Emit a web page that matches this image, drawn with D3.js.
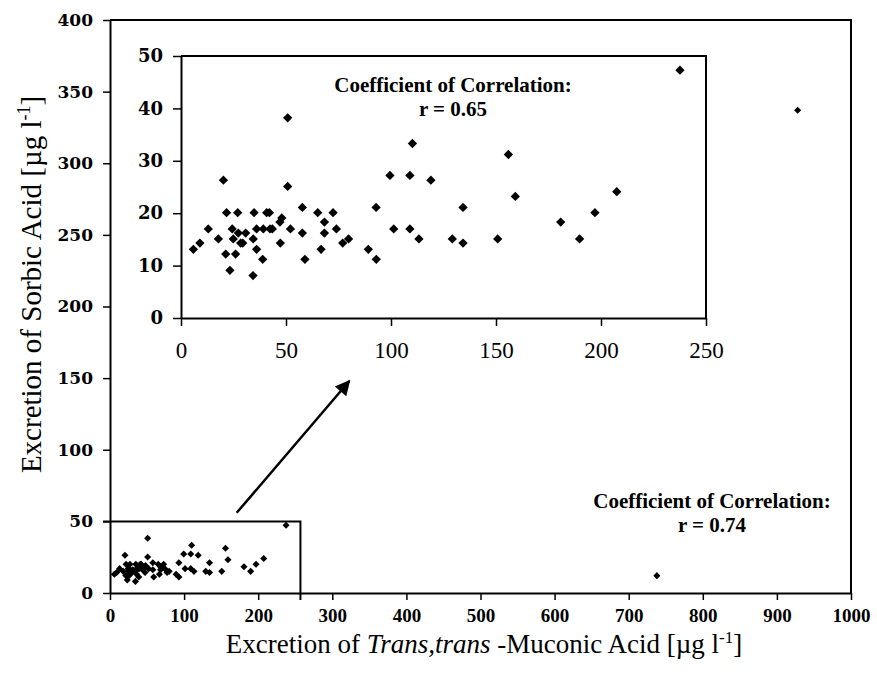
<!DOCTYPE html>
<html>
<head>
<meta charset="utf-8">
<script src="https://cdn.jsdelivr.net/npm/d3@7"></script>
<style>
  body { margin: 0; background: #fff; }
  text { fill: #000; }
</style>
</head>
<body>
<div id="chart"></div>
<script>
// trans,trans-muconic acid (x) vs sorbic acid (y), µg/l
const ttma = [5.9, 9.0, 13.0, 17.8, 20.2, 21.7, 21.3, 23.3, 24.4, 24.9, 26.0, 27.0, 27.3, 28.4, 29.4,
  30.8, 34.4, 34.8, 34.3, 36.0, 36.0, 38.9, 39.2, 40.8, 42.1, 42.4, 43.5, 47.3, 47.1, 48.0,
  50.8, 50.8, 52.1, 57.8, 57.8, 59.0, 65.1, 68.3, 68.3, 66.7, 72.4, 74.0, 77.0, 79.8, 89.2,
  92.9, 93.0, 99.5, 101.3, 109.0, 109.0, 110.2, 113.3, 119.0, 129.2, 134.3, 134.3, 150.8, 155.9,
  159.2, 180.8, 189.8, 197.1, 207.5, 237.6];
const sorbic = [13.1, 14.3, 17.0, 15.1, 26.3, 20.1, 12.2, 9.1, 17.0, 15.1, 12.2, 20.1, 16.2, 14.3, 14.3,
  16.2, 15.1, 20.1, 8.1, 17.0, 13.1, 11.2, 17.0, 20.1, 20.1, 17.0, 17.0, 14.3, 18.3, 19.1,
  38.2, 25.1, 17.0, 21.1, 16.2, 11.2, 20.1, 18.3, 16.2, 13.1, 20.1, 17.0, 14.3, 15.1, 13.1,
  21.1, 11.2, 27.2, 17.0, 27.2, 17.0, 33.3, 15.1, 26.3, 15.1, 14.3, 21.1, 15.1, 31.2,
  23.2, 18.3, 15.1, 20.1, 24.1, 47.3];
// two high values only shown on the full chart
const ttmaHigh = [738, 928];
const sorbicHigh = [12.1, 337];

const mainXTicks = [0, 100, 200, 300, 400, 500, 600, 700, 800, 900, 1000];
const mainYTicks = [0, 50, 100, 150, 200, 250, 300, 350, 400];
const insetXTicks = [0, 50, 100, 150, 200, 250];
const insetYTicks = [0, 10, 20, 30, 40, 50];

const width = 877, height = 678;

const svg = d3.select("#chart")
  .append("svg")
  .attr("width", width)
  .attr("height", height);

// ---- main chart ----
const x = d3.scaleLinear().domain([0, 1000]).range([110, 851]);
const y = d3.scaleLinear().domain([0, 400]).range([593, 20]);

const diamond = d3.symbol().type(d3.symbolDiamond2);

function styleAxis(g, family, size, weight) {
  g.select(".domain").attr("stroke", "#000").attr("stroke-width", 2);
  g.selectAll(".tick line").attr("stroke", "#000").attr("stroke-width", 1.5);
  g.selectAll(".tick text")
    .attr("font-family", family)
    .attr("font-size", size)
    .attr("font-weight", weight)
    .attr("fill", "#000");
}

svg.append("g")
  .attr("transform", `translate(0,${y(0)})`)
  .call(d3.axisBottom(x).tickValues(mainXTicks).tickFormat(d3.format("d"))
    .tickSize(7).tickSizeOuter(0).tickPadding(9))
  .call(g => styleAxis(g, "Liberation Serif", 19, "bold"));

svg.append("g")
  .attr("transform", `translate(${x(0)},0)`)
  .call(d3.axisLeft(y).tickValues(mainYTicks).tickSize(7).tickSizeOuter(0).tickPadding(10))
  .call(g => styleAxis(g, "DejaVu Serif", 17, "bold"));

// top and right frame
svg.append("path")
  .attr("d", `M${x(0)},${y(400)}H${x(1000)}V${y(0)}`)
  .attr("fill", "none")
  .attr("stroke", "#000")
  .attr("stroke-width", 2);

// box around the zoomed region
svg.append("path")
  .attr("d", `M${x(0) - 7},${y(50)}H${x(257)}V${y(0) + 7}`)
  .attr("fill", "none")
  .attr("stroke", "#000")
  .attr("stroke-width", 2);

svg.append("g")
  .selectAll("path")
  .data(d3.range(ttma.length))
  .join("path")
  .attr("transform", i => `translate(${x(ttma[i])},${y(sorbic[i])})`)
  .attr("d", diamond.size(32));

svg.append("g")
  .selectAll("path")
  .data(d3.range(ttmaHigh.length))
  .join("path")
  .attr("transform", i => `translate(${x(ttmaHigh[i])},${y(sorbicHigh[i])})`)
  .attr("d", diamond.size(32));

// arrow from the box to the inset
svg.append("defs").append("marker")
  .attr("id", "head")
  .attr("viewBox", "0 0 10 10")
  .attr("refX", 9).attr("refY", 5)
  .attr("markerWidth", 8).attr("markerHeight", 6)
  .attr("markerUnits", "strokeWidth")
  .attr("orient", "auto")
  .append("path")
  .attr("d", "M0,0L10,5L0,10z");

svg.append("line")
  .attr("x1", x(171)).attr("y1", y(56))
  .attr("x2", x(323)).attr("y2", y(148))
  .attr("stroke", "#000")
  .attr("stroke-width", 2.5)
  .attr("marker-end", "url(#head)");

function note(cx, cy, lines) {
  lines.forEach((t, k) => {
    svg.append("text")
      .attr("x", cx).attr("y", cy + k * 24)
      .attr("text-anchor", "middle")
      .attr("font-family", "Liberation Serif")
      .attr("font-size", 21).attr("font-weight", "bold")
      .text(t);
  });
}
note(712, 508, ["Coefficient of Correlation:", "r = 0.74"]);

// axis titles
const yTitle = svg.append("text")
  .attr("transform", `translate(41,${(y(0) + y(400)) / 2 - 22}) rotate(-90)`)
  .attr("text-anchor", "middle")
  .attr("font-family", "Liberation Serif")
  .attr("font-size", 29);
yTitle.append("tspan").text("Excretion of Sorbic Acid [µg l");
yTitle.append("tspan").attr("dy", -11).attr("font-size", 18).text("-1");
yTitle.append("tspan").attr("dy", 11).text("]");

const xTitle = svg.append("text")
  .attr("x", 484).attr("y", 653)
  .attr("text-anchor", "middle")
  .attr("font-family", "Liberation Serif")
  .attr("font-size", 27);
xTitle.append("tspan").text("Excretion of ");
xTitle.append("tspan").attr("font-style", "italic").text("Trans,trans");
xTitle.append("tspan").text(" -Muconic Acid [µg l");
xTitle.append("tspan").attr("dy", -10).attr("font-size", 17).text("-1");
xTitle.append("tspan").attr("dy", 10).text("]");

// ---- inset ----
const xi = d3.scaleLinear().domain([0, 250]).range([181, 706]);
const yi = d3.scaleLinear().domain([0, 50]).range([318, 56]);

svg.append("rect")
  .attr("x", xi(0)).attr("y", yi(50))
  .attr("width", xi(250) - xi(0)).attr("height", yi(0) - yi(50))
  .attr("fill", "#fff");

svg.append("g")
  .attr("transform", `translate(0,${yi(0)})`)
  .call(d3.axisBottom(xi).tickValues(insetXTicks).tickSize(8).tickSizeOuter(0).tickPadding(16))
  .call(g => styleAxis(g, "Liberation Serif", 23, "normal"));

svg.append("g")
  .attr("transform", `translate(${xi(0)},0)`)
  .call(d3.axisLeft(yi).tickValues(insetYTicks).tickSize(8).tickSizeOuter(0).tickPadding(10))
  .call(g => styleAxis(g, "DejaVu Serif", 18, "bold"));

svg.append("path")
  .attr("d", `M${xi(0)},${yi(50)}H${xi(250)}V${yi(0)}`)
  .attr("fill", "none")
  .attr("stroke", "#000")
  .attr("stroke-width", 2);

svg.append("g")
  .selectAll("path")
  .data(d3.range(ttma.length))
  .join("path")
  .attr("transform", i => `translate(${xi(ttma[i])},${yi(sorbic[i])})`)
  .attr("d", diamond.size(55));

note(453, 92, ["Coefficient of Correlation:", "r = 0.65"]);
</script>
</body>
</html>
